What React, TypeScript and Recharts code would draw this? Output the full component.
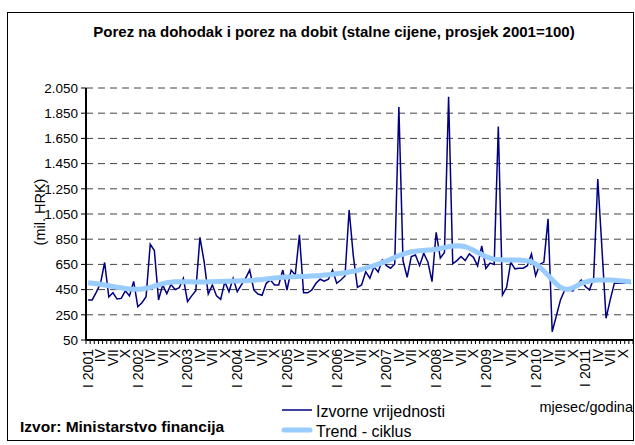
import { LineChart, Line, XAxis, YAxis, CartesianGrid } from "recharts";

// godine i oznake mjeseci na osi x
const years = ["2001", "2002", "2003", "2004", "2005", "2006", "2007", "2008", "2009", "2010", "2011"];
const quarterMonths = ["I", "IV", "VII", "X"];

// mil. HRK, mjesečno od I 2001 do XII 2011
const izvorne = [
  368, 368, 430, 500, 665, 392, 425, 375, 380, 440, 400, 515,
  314, 346, 394, 810, 760, 368, 487, 418, 490, 450, 465, 540,
  354, 400, 442, 865, 672, 415, 487, 400, 373, 513, 433, 540,
  433, 487, 540, 605, 447, 415, 405, 500, 526, 487, 487, 605,
  447, 605, 566, 884, 425, 425, 447, 500, 532, 516, 532, 605,
  500, 526, 558, 1082, 720, 468, 487, 592, 540, 632, 590, 685,
  640, 620, 653, 1900, 680, 548, 712, 725, 640, 738, 670, 513,
  905, 700, 745, 1981, 655, 680, 713, 680, 733, 706, 638, 796,
  618, 660, 650, 1744, 407, 468, 668, 615, 620, 620, 640, 733,
  560, 650, 668, 1012, 116, 240, 368, 445, 447, 440, 487, 526,
  475, 447, 540, 1328, 780, 222, 368, 500, 500, 500, 500, 500,
];

const trendCiklus = [
  505, 501, 497, 492, 487, 481, 475, 469, 464, 459, 455, 453,
  453, 455, 460, 468, 478, 488, 497, 504, 509, 512, 513, 513,
  512, 512, 511, 511, 511, 512, 513, 514, 515, 516, 517, 518,
  519, 520, 521, 523, 525, 528, 531, 535, 539, 542, 545, 548,
  550, 551, 552, 553, 554, 556, 558, 560, 562, 565, 568, 571,
  575, 579, 584, 590, 596, 603, 611, 620, 630, 641, 652, 664,
  676, 690, 705, 720, 732, 742, 750, 755, 758, 761, 764, 767,
  771, 776, 783, 790, 796, 798, 796, 790, 778, 762, 745, 728,
  712, 700, 692, 688, 686, 685, 685, 685, 684, 682, 678, 670,
  655, 628, 598, 563, 528, 495, 468, 455, 453, 463, 482, 500,
  510, 518, 523, 526, 527, 527, 526, 524, 521, 518, 515, 512,
];

const yTicks = [50, 250, 450, 650, 850, 1050, 1250, 1450, 1650, 1850, 2050];

const data = izvorne.map((v, i) => ({ i, izvorne: v, trend: trendCiklus[i] }));
const boundaries = [...data.map((d) => d.i - 0.5), izvorne.length - 0.5];

const W = 635;
const H = 445;
const LEFT = 86;
const RIGHT = 2;
const CAT = (W - LEFT - RIGHT) / izvorne.length;
const FONT = "'Liberation Sans', Arial, sans-serif";

const monthLabel = (k: number) =>
  k % 12 === 0 ? `I ${years[k / 12]}` : quarterMonths[(k % 12) / 3];

const fmt = (v: number) =>
  v >= 1000 ? `${Math.floor(v / 1000)}.${String(v % 1000).padStart(3, "0")}` : String(v);

const MonthTick = (props: any) => {
  const { x, payload } = props;
  const k = payload.value + 0.5;
  if (k % 3 !== 0 || k >= izvorne.length) return <g />;
  const tx = x + CAT / 2;
  const ty = 349;
  return (
    <text
      x={tx}
      y={ty}
      dy="0.35em"
      textAnchor="end"
      transform={`rotate(-90, ${tx}, ${ty})`}
      fontSize={14}
      fontFamily={FONT}
      fill="#000"
    >
      {monthLabel(k)}
    </text>
  );
};

export default function App() {
  return (
    <div style={{ position: "absolute", left: 0, top: 0, width: W, height: H, background: "#fff" }}>
      <LineChart
        width={W}
        height={H}
        data={data}
        margin={{ top: 88, right: RIGHT, bottom: 0, left: 0 }}
      >
        <CartesianGrid vertical={false} stroke="#444" strokeDasharray="7 5" />
        <XAxis
          type="number"
          dataKey="i"
          domain={[-0.5, izvorne.length - 0.5]}
          ticks={boundaries}
          interval={0}
          height={105}
          tickSize={4}
          tick={<MonthTick />}
          axisLine={{ stroke: "#000", strokeWidth: 2 }}
          tickLine={{ stroke: "#000" }}
        />
        <YAxis
          type="number"
          domain={[50, 2050]}
          ticks={yTicks}
          interval={0}
          width={LEFT}
          tickSize={5}
          tickMargin={3}
          tickFormatter={fmt}
          axisLine={{ stroke: "#000", strokeWidth: 2 }}
          tickLine={{ stroke: "#000" }}
          tick={{ fontSize: 13.5, fontFamily: FONT, fill: "#000" }}
        />
        <Line
          dataKey="izvorne"
          type="linear"
          stroke="#000080"
          strokeWidth={1.5}
          dot={false}
          isAnimationActive={false}
        />
        <Line
          dataKey="trend"
          type="linear"
          stroke="#99CCFF"
          strokeWidth={5}
          dot={false}
          isAnimationActive={false}
        />
      </LineChart>
      <svg
        width={W}
        height={H}
        style={{ position: "absolute", left: 0, top: 0, pointerEvents: "none" }}
        fontFamily={FONT}
      >
        <rect x={7.5} y={12.5} width={626} height={428} fill="none" stroke="#000" />
        <text x={334} y={32} dy="0.35em" textAnchor="middle" fontSize={15} fontWeight="bold">
          Porez na dohodak i porez na dobit (stalne cijene, prosjek 2001=100)
        </text>
        <text
          x={40}
          y={212}
          dy="0.35em"
          textAnchor="middle"
          fontSize={14.5}
          transform="rotate(-90, 40, 212)"
        >
          (mil. HRK)
        </text>
        <line x1={282} y1={410} x2={312} y2={410} stroke="#000080" strokeWidth={1.5} />
        <text x={316} y={411} dy="0.35em" fontSize={16}>
          Izvorne vrijednosti
        </text>
        <line x1={284} y1={430} x2={310} y2={430} stroke="#99CCFF" strokeWidth={5} strokeLinecap="round" />
        <text x={316} y={431} dy="0.35em" fontSize={16}>
          Trend - ciklus
        </text>
        <text x={633} y={407} dy="0.35em" textAnchor="end" fontSize={14.5}>
          mjesec/godina
        </text>
        <text x={20} y={427} dy="0.35em" fontSize={15.5} fontWeight="bold">
          Izvor: Ministarstvo financija
        </text>
      </svg>
    </div>
  );
}
